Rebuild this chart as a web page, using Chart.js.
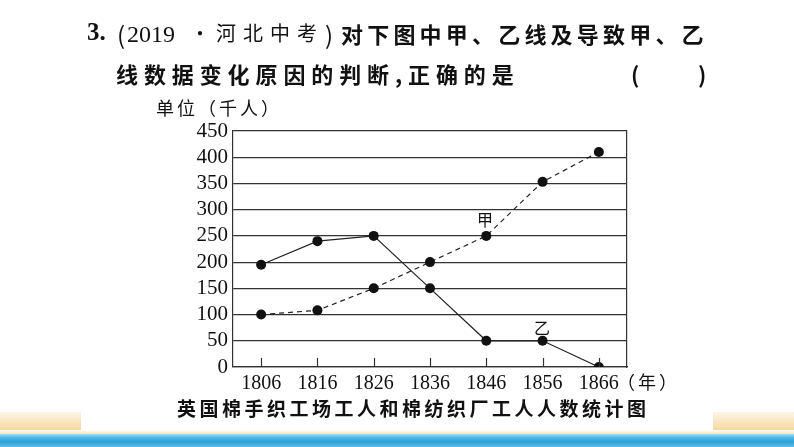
<!DOCTYPE html>
<html>
<head>
<meta charset="utf-8">
<script src="https://cdn.jsdelivr.net/npm/chart.js@4/dist/chart.umd.min.js"></script>
<style>
  body { margin: 0; background: #fff; }
  #wrap { position: relative; width: 794px; height: 447px; overflow: hidden; background: #fff; }
  #wrap canvas { position: absolute; left: 0; top: 0; }
  .t { position: absolute; white-space: nowrap; color: #111; font-family: "Noto Sans CJK SC", sans-serif; }
  .sand { position: absolute; top: 412px; height: 24px; background: linear-gradient(#fdf6e6, #f3cf88); }
  .sea { position: absolute; left: 0; top: 434px; width: 794px; height: 13px;
         background: linear-gradient(#9fdcf4 0, #49b6e3 30%, #2f9fd6 60%, #5cc0ea 100%); }
  .shore { position: absolute; left: 0; top: 430px; width: 794px; height: 5px; background: linear-gradient(#fff, #f6dfae); }
</style>
</head>
<body>
<div id="wrap">
  <canvas id="c" width="794" height="447"></canvas>

  <div class="t" style="left:87px;top:18px;font-size:25px;font-weight:bold;font-family:'Liberation Serif',serif;">3.</div>
  <div class="t" style="left:117px;top:16px;font-size:24px;">(</div>
  <div class="t" style="left:127px;top:21px;font-size:24px;font-family:'Liberation Serif',serif;">2019</div>
  <div class="t" style="left:190px;top:18px;font-size:20px;">·</div>
  <div class="t" style="left:216px;top:18px;font-size:20px;letter-spacing:7px;">河北中考</div>
  <div class="t" style="left:325px;top:16px;font-size:24px;">)</div>
  <div class="t" style="left:341px;top:17px;font-size:22px;font-weight:bold;letter-spacing:4.2px;">对下图中甲、乙线及导致甲、乙</div>
  <div class="t" style="left:116px;top:57px;font-size:22px;font-weight:bold;letter-spacing:5.9px;">线数据变化原因的判断,正确的是</div>
  <div class="t" style="left:631px;top:57px;font-size:22px;font-weight:bold;">(</div>
  <div class="t" style="left:698px;top:57px;font-size:22px;font-weight:bold;">)</div>

  <div class="t" style="left:156px;top:94px;font-size:18px;letter-spacing:3px;">单位（千人）</div>
  <div class="t" style="left:617px;top:368px;font-size:18px;letter-spacing:3px;">（年）</div>
  <div class="t" style="left:477px;top:207px;font-size:16px;">甲</div>
  <div class="t" style="left:534px;top:315px;font-size:16px;">乙</div>

  <div class="t" style="left:177px;top:394px;font-size:19px;font-weight:bold;letter-spacing:3.5px;">英国棉手织工场工人和棉纺织厂工人人数统计图</div>

  <div class="sand" style="left:0;width:81px;"></div>
  <div class="sand" style="left:713px;width:81px;"></div>
  <div class="shore"></div>
  <div class="sea"></div>
</div>
<script>
// 年份
const years = ['1806', '1816', '1826', '1836', '1846', '1856', '1866'];
// 甲线（虚线）单位：千人
const jiaValues = [100, 108, 150, 200, 250, 353, 410];
// 乙线（实线）
const yiValues = [195, 240, 250, 150, 50, 50, 0];
const yMin = 0, yMax = 450, yStep = 50;

// x轴向内的小刻度
const innerTicks = {
  id: 'innerTicks',
  afterDraw(chart) {
    const x = chart.scales.x, ctx = chart.ctx, b = chart.chartArea.bottom;
    ctx.save();
    ctx.strokeStyle = '#333';
    ctx.lineWidth = 1.2;
    years.forEach((y, i) => {
      const px = Math.round(x.getPixelForValue(i)) + 0.5;
      ctx.beginPath();
      ctx.moveTo(px, b);
      ctx.lineTo(px, b - 9);
      ctx.stroke();
    });
    ctx.restore();
  }
};

new Chart(document.getElementById('c'), {
  type: 'line',
  data: {
    labels: years,
    datasets: [
      {
        label: '乙',
        data: yiValues,
        borderColor: '#222',
        borderWidth: 1.2,
        pointRadius: 5,
        pointBackgroundColor: '#111',
        pointBorderWidth: 0,
        tension: 0
      },
      {
        label: '甲',
        data: jiaValues,
        borderColor: '#222',
        borderWidth: 1.2,
        borderDash: [5, 4],
        pointRadius: 5,
        pointBackgroundColor: '#111',
        pointBorderWidth: 0,
        tension: 0
      }
    ]
  },
  options: {
    responsive: false,
    animation: false,
    layout: { padding: { left: 0, top: 131, right: 167, bottom: 50 } },
    plugins: { legend: { display: false }, tooltip: { enabled: false } },
    scales: {
      x: {
        offset: true,
        grid: { display: false },
        border: { display: true, color: '#333', width: 1.2 },
        ticks: { color: '#111', padding: -3, font: { family: 'Liberation Serif', size: 20 } },
        afterFit(s) { s.height = 30; }
      },
      y: {
        min: yMin, max: yMax,
        grid: { color: '#333', lineWidth: 1.2, drawTicks: false },
        border: { display: true, color: '#333', width: 1.2 },
        ticks: { stepSize: yStep, autoSkip: false, color: '#111', padding: 5, font: { family: 'Liberation Serif', size: 21 } },
        afterFit(s) { s.width = 233; }
      },
      yRight: {
        position: 'right',
        min: yMin, max: yMax,
        grid: { drawOnChartArea: false, drawTicks: false },
        border: { display: true, color: '#333', width: 1.2 },
        ticks: { display: false },
        afterFit(s) { s.width = 0; }
      }
    }
  },
  plugins: [innerTicks]
});
</script>
</body>
</html>
